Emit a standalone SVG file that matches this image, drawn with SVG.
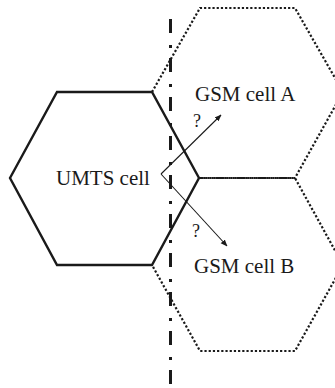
<svg xmlns="http://www.w3.org/2000/svg" width="335" height="388" viewBox="0 0 335 388">
<defs>
<style>
.solid{fill:none;stroke:#1a1a1a;stroke-width:2.4;stroke-linejoin:miter}
.dot{fill:none;stroke:#1a1a1a;stroke-width:2.2;stroke-dasharray:2.2 2}
.lbl{font-family:"Liberation Serif","Times New Roman",serif;font-size:21px;fill:#1a1a1a}
.q{font-family:"Liberation Serif","Times New Roman",serif;font-size:18px;fill:#1a1a1a}
.arr{fill:none;stroke:#1a1a1a;stroke-width:1.1}
</style>
<marker id="ah" viewBox="0 0 10 10" refX="9" refY="5" markerWidth="7" markerHeight="7" markerUnits="userSpaceOnUse" orient="auto">
<path d="M0,1 L10,5 L0,9 Z" fill="#1a1a1a"/>
</marker>
</defs>
<rect width="335" height="388" fill="#fff"/>
<g id="gsm-a">
<path class="dot" d="M152,92 L200,8 L295,8 L343,92 L295,178 L199,178"/>
<text class="lbl" x="195" y="101">GSM cell A</text>
</g>
<g id="gsm-b">
<path class="dot" d="M199,178 L295,178 L343,265 L295,351 L200,351 L152,265"/>
<text class="lbl" x="194" y="273">GSM cell B</text>
</g>
<g id="umts">
<path class="solid" d="M10,178 L57,92 L152,92 L199,178 L152,265 L57,265 Z"/>
<text class="lbl" x="56" y="185">UMTS cell</text>
</g>
<g id="boundary">
<line x1="170.5" y1="19" x2="170.5" y2="388" stroke="#1a1a1a" stroke-width="3" stroke-dasharray="14 12 3 10"/>
</g>
<g id="connectors">
<path class="arr" d="M161,174 L221,115" marker-end="url(#ah)"/>
<path class="arr" d="M161,174 L227,246" marker-end="url(#ah)"/>
<text class="q" x="193" y="127">?</text>
<text class="q" x="192" y="237">?</text>
</g>
</svg>
